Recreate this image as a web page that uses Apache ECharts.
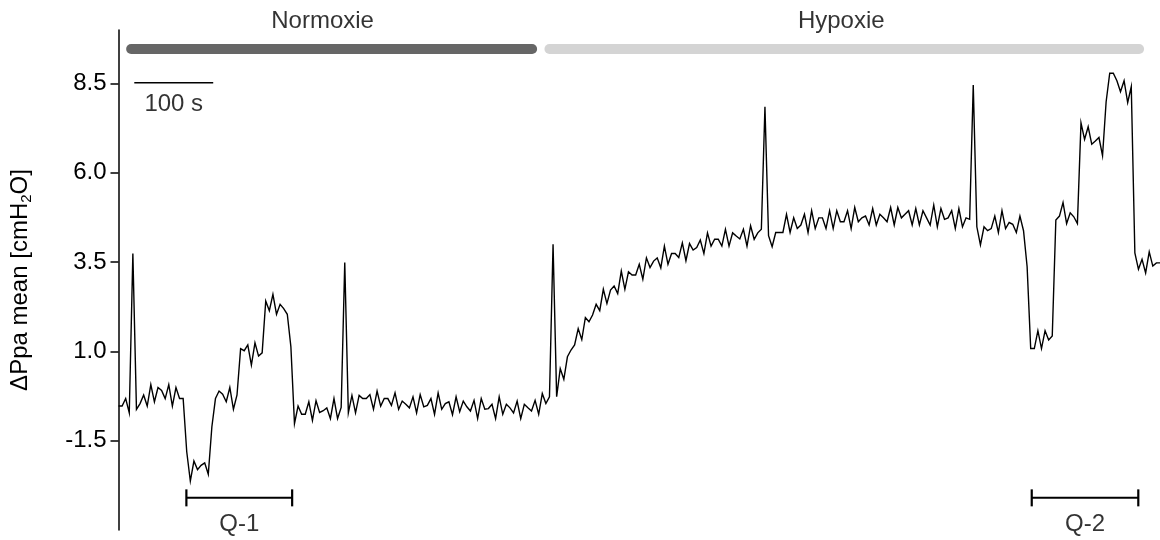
<!DOCTYPE html>
<html><head><meta charset="utf-8">
<script src="https://cdn.jsdelivr.net/npm/echarts@6/dist/echarts.min.js"></script>
<style>html,body{margin:0;padding:0;background:#fff}#c{width:1160px;height:540px}</style>
</head><body><div id="c"></div>
<script>
// sampling period of the recording (seconds per point)
const SAMPLE_S = 4.55;
// ΔPpa mean [cmH2O], one value per sample
const values = [
 -0.53,-0.53,-0.32,-0.72,3.74,-0.62,-0.46,-0.22,-0.53,0.07,
 -0.41,-0.01,-0.09,-0.32,0.07,-0.53,-0.01,-0.32,-0.32,-1.81,
 -2.63,-2.07,-2.31,-2.19,-2.12,-2.44,-1.11,-0.32,-0.11,-0.20,
 -0.41,-0.01,-0.62,-0.22,1.08,1.02,1.18,0.62,1.24,0.87,
 0.96,2.41,2.14,2.60,2.04,2.32,2.20,2.04,1.13,-1.02,
 -0.53,-0.76,-0.76,-0.41,-0.93,-0.38,-0.71,-0.66,-0.58,-0.88,
 -0.32,-0.88,-0.57,3.49,-0.72,-0.23,-0.72,-0.23,-0.32,-0.32,
 -0.21,-0.62,-0.11,-0.53,-0.32,-0.32,-0.51,-0.16,-0.62,-0.39,
 -0.48,-0.58,-0.27,-0.72,-0.21,-0.55,-0.51,-0.32,-0.76,-0.16,
 -0.62,-0.46,-0.41,-0.77,-0.27,-0.69,-0.39,-0.55,-0.67,-0.37,
 -0.88,-0.32,-0.62,-0.60,-0.48,-0.88,-0.27,-0.76,-0.48,-0.58,
 -0.72,-0.39,-0.88,-0.48,-0.58,-0.67,-0.37,-0.76,-0.18,-0.46,
 -0.27,4.00,-0.27,0.52,0.22,0.85,1.04,1.18,1.64,1.33,
 1.95,1.83,2.02,2.32,2.14,2.74,2.34,2.72,2.83,2.62,
 3.25,2.74,3.23,3.14,3.14,3.44,3.02,3.62,3.35,3.53,
 3.62,3.34,3.95,3.44,3.74,3.74,3.63,4.04,3.54,4.02,
 3.84,3.91,4.12,3.74,4.32,3.95,4.14,4.14,3.95,4.42,
 3.95,4.32,4.23,4.15,4.42,3.95,4.52,4.14,4.32,4.42,
 7.85,4.24,3.93,4.33,4.33,4.33,4.84,4.33,4.74,4.44,
 4.54,4.84,4.33,4.94,4.44,4.74,4.74,4.44,4.94,4.44,
 4.94,4.63,4.63,4.94,4.44,5.03,4.63,4.74,4.79,4.54,
 5.00,4.54,4.84,4.74,4.63,5.03,4.54,5.03,4.74,4.84,
 4.94,4.54,5.00,4.54,4.94,4.74,4.54,5.10,4.49,5.00,
 4.70,4.74,4.94,4.44,5.00,4.49,4.74,4.70,8.46,4.49,
 3.98,4.49,4.38,4.44,4.79,4.33,4.94,4.44,4.61,4.56,
 4.33,4.79,4.38,3.37,1.08,1.08,1.58,1.08,1.58,1.32,
 1.43,4.68,4.79,5.17,4.58,4.88,4.77,4.58,7.40,6.94,
 7.29,6.80,6.89,6.99,6.48,7.99,8.79,8.79,8.58,8.27,
 8.58,7.97,8.41,3.76,3.30,3.58,3.20,3.79,3.39,3.48,
 3.48
];
const yTicks = [-1.5, 1.0, 3.5, 6.0, 8.5];
const yMin = -4, yMax = 10;
// phases (seconds)
const phaseNames = ['Normoxie', 'Hypoxie'];
const phaseStart = [16, 546];
const phaseEnd = [524, 1293];
const phaseColors = ['#666666', '#d4d4d4'];
const phaseLevel = 9.47;
// time scale bar (seconds)
const scaleStart = 20, scaleLength = 100, scaleLevel = 8.52, scaleText = '100 s';
// Q brackets (seconds)
const bracketNames = ['Q-1', 'Q-2'];
const bracketStart = [86, 1157];
const bracketEnd = [220, 1292];
const bracketLevel = -3.10;

const FONT = 'Liberation Sans, Arial, sans-serif';
const FS = 24;
const xMax = (values.length - 1) * SAMPLE_S;
const lineData = values.map((v, i) => [i * SAMPLE_S, v]);

const series = [];
series.push({
  type: 'line', data: lineData, symbol: 'none', z: 5,
  lineStyle: { color: '#000', width: 1.4, join: 'miter' }
});
phaseNames.forEach((n, k) => {
  series.push({
    type: 'line', symbol: 'none', silent: true,
    data: [[phaseStart[k], phaseLevel], [phaseEnd[k], phaseLevel]],
    lineStyle: { color: phaseColors[k], width: 10, cap: 'round' }
  });
});
series.push({
  type: 'scatter', symbolSize: 1, itemStyle: { color: 'rgba(0,0,0,0)' },
  data: phaseNames.map((n, k) => ({ name: n, value: [(phaseStart[k] + phaseEnd[k]) / 2, phaseLevel],
     label: { offset: [k === 0 ? -9 : -3, 0] } })),
  label: { show: true, position: 'top', distance: 15, formatter: '{b}', color: '#000', fontSize: FS, fontFamily: FONT }
});
series.push({
  type: 'line', symbol: 'none', silent: true,
  data: [[scaleStart, scaleLevel], [scaleStart + scaleLength, scaleLevel]],
  lineStyle: { color: '#000', width: 1.5 }
});
series.push({
  type: 'scatter', symbolSize: 1, itemStyle: { color: 'rgba(0,0,0,0)' },
  data: [{ name: scaleText, value: [scaleStart + scaleLength / 2, scaleLevel] }],
  label: { show: true, position: 'bottom', distance: 9, formatter: '{b}', color: '#000', fontSize: FS, fontFamily: FONT }
});
bracketNames.forEach((n, k) => {
  series.push({
    type: 'line', symbol: 'rect', symbolSize: [2.2, 17], showSymbol: true, silent: true,
    itemStyle: { color: '#000' },
    data: [[bracketStart[k], bracketLevel], [bracketEnd[k], bracketLevel]],
    lineStyle: { color: '#000', width: 2 }
  });
});
series.push({
  type: 'scatter', symbolSize: 1, itemStyle: { color: 'rgba(0,0,0,0)' },
  data: bracketNames.map((n, k) => ({ name: n, value: [(bracketStart[k] + bracketEnd[k]) / 2, bracketLevel] })),
  label: { show: true, position: 'bottom', distance: 14, formatter: '{b}', color: '#000', fontSize: FS, fontFamily: FONT }
});

const chart = echarts.init(document.getElementById('c'), null, { renderer: 'canvas' });
chart.setOption({
  animation: false,
  backgroundColor: '#fff',
  textStyle: { fontFamily: FONT },
  grid: { left: 118, right: 0, top: 30, bottom: 10, containLabel: false },
  xAxis: { type: 'value', min: 0, max: xMax, show: false },
  yAxis: {
    type: 'value', min: yMin, max: yMax,
    name: '{n|ΔPpa mean [cmH}{s|2}{n|O]}',
    nameLocation: 'middle', nameGap: 84, nameRotate: 90,
    nameTextStyle: {
      rich: {
        n: { fontSize: FS, fontFamily: FONT, color: '#000' },
        s: { fontSize: 15, fontFamily: FONT, color: '#000', padding: [14, 0, 0, 0] }
      }
    },
    splitLine: { show: false },
    axisLine: { show: true, lineStyle: { color: '#000', width: 1.5 } },
    axisTick: { show: true, length: 8, customValues: yTicks, lineStyle: { color: '#000', width: 1.5 } },
    axisLabel: { customValues: yTicks, fontSize: FS, fontFamily: FONT, color: '#000', margin: 12,
      formatter: v => v.toFixed(1) }
  },
  series: series
});
</script></body></html>
